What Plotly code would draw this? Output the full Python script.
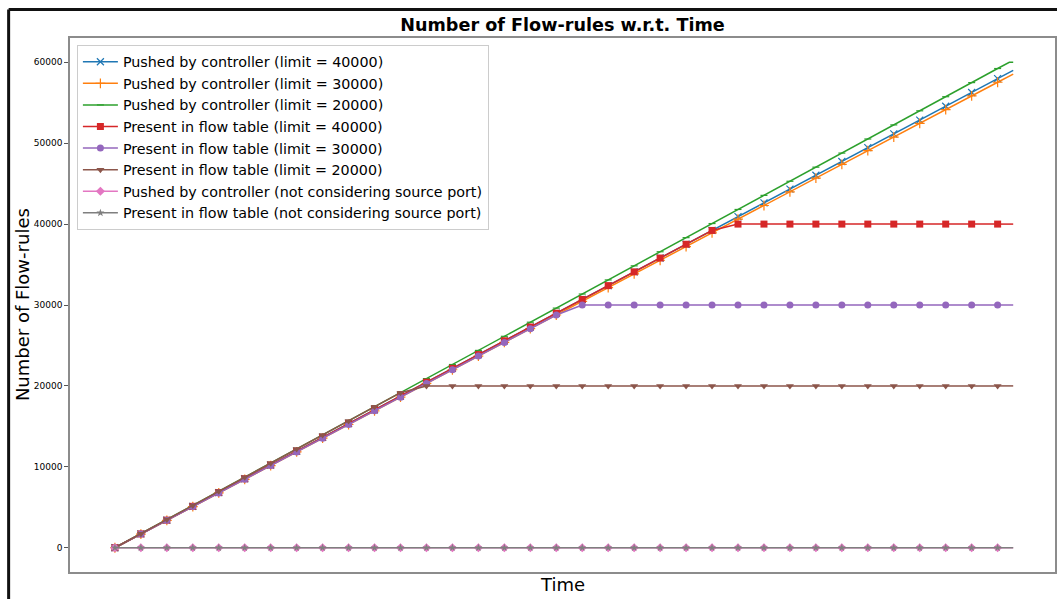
import plotly.graph_objects as go

# time index at marker positions; each curve continues a little past the last marker
time = [0, 1, 2, 3, 4, 5, 6, 7, 8, 9, 10, 11, 12, 13, 14, 15, 16, 17, 18, 19, 20,
        21, 22, 23, 24, 25, 26, 27, 28, 29, 30, 31, 32, 33, 34]
time_tail = [34, 34.6]
time_tail_green = [34, 34.45, 34.6]

pushed_40000 = [0, 1705, 3410, 5115, 6820, 8525, 10230, 11935, 13640, 15345, 17050,
                18755, 20460, 22165, 23870, 25575, 27280, 28985, 30690, 32395, 34100,
                35805, 37510, 39215, 40920, 42625, 44330, 46035, 47740, 49445, 51150,
                52855, 54560, 56265, 57970]
pushed_40000_tail = [57970, 58990]
pushed_30000 = [0, 1692, 3384, 5076, 6768, 8460, 10152, 11844, 13536, 15228, 16920,
                18612, 20304, 21996, 23688, 25380, 27072, 28764, 30456, 32148, 33840,
                35532, 37224, 38916, 40608, 42300, 43992, 45684, 47376, 49068, 50760,
                52452, 54144, 55836, 57528]
pushed_30000_tail = [57528, 58540]
pushed_20000 = [0, 1742, 3484, 5226, 6968, 8710, 10452, 12194, 13936, 15678, 17420,
                19162, 20904, 22646, 24388, 26130, 27872, 29614, 31356, 33098, 34840,
                36582, 38324, 40066, 41808, 43550, 45292, 47034, 48776, 50518, 52260,
                54002, 55744, 57486, 59228]
pushed_20000_tail = [59228, 60000, 60000]
present_40000 = [0, 1705, 3410, 5115, 6820, 8525, 10230, 11935, 13640, 15345, 17050,
                 18755, 20460, 22165, 23870, 25575, 27280, 28985, 30690, 32395, 34100,
                 35805, 37510, 39215, 40000, 40000, 40000, 40000, 40000, 40000, 40000,
                 40000, 40000, 40000, 40000]
present_40000_tail = [40000, 40000]
present_30000 = [0, 1692, 3384, 5076, 6768, 8460, 10152, 11844, 13536, 15228, 16920,
                 18612, 20304, 21996, 23688, 25380, 27072, 28764, 30000, 30000, 30000,
                 30000, 30000, 30000, 30000, 30000, 30000, 30000, 30000, 30000, 30000,
                 30000, 30000, 30000, 30000]
present_30000_tail = [30000, 30000]
present_20000 = [0, 1742, 3484, 5226, 6968, 8710, 10452, 12194, 13936, 15678, 17420,
                 19162, 20000, 20000, 20000, 20000, 20000, 20000, 20000, 20000, 20000,
                 20000, 20000, 20000, 20000, 20000, 20000, 20000, 20000, 20000, 20000,
                 20000, 20000, 20000, 20000]
present_20000_tail = [20000, 20000]
pushed_no_src = [0] * 35
pushed_no_src_tail = [0, 0]
present_no_src = [0] * 35
present_no_src_tail = [0, 0]

labels = ["Pushed by controller (limit = 40000)",
          "Pushed by controller (limit = 30000)",
          "Pushed by controller (limit = 20000)",
          "Present in flow table (limit = 40000)",
          "Present in flow table (limit = 30000)",
          "Present in flow table (limit = 20000)",
          "Pushed by controller (not considering source port)",
          "Present in flow table (not considering source port)"]

series = [
    (pushed_40000, time_tail, pushed_40000_tail, "#1f77b4", "x-thin", 7),
    (pushed_30000, time_tail, pushed_30000_tail, "#ff7f0e", "cross-thin", 7),
    (pushed_20000, time_tail_green, pushed_20000_tail, "#2ca02c", "line-ew", 5),
    (present_40000, time_tail, present_40000_tail, "#d62728", "square", 7),
    (present_30000, time_tail, present_30000_tail, "#9467bd", "circle", 7),
    (present_20000, time_tail, present_20000_tail, "#8c564b", "triangle-down", 7),
    (pushed_no_src, time_tail, pushed_no_src_tail, "#e377c2", "diamond", 7),
    (present_no_src, time_tail, present_no_src_tail, "#7f7f7f", "star", 6),
]

fig = go.Figure()
for (y, tt, yt, c, sym, sz), name in zip(series, labels):
    thin = sym in ("x-thin", "cross-thin", "line-ew")
    fig.add_trace(go.Scatter(
        x=tt, y=yt, mode="lines", showlegend=False, hoverinfo="skip",
        line=dict(color=c, width=1.5),
    ))
    fig.add_trace(go.Scatter(
        x=time, y=y, name=name, mode="lines+markers",
        line=dict(color=c, width=1.5),
        marker=dict(symbol=sym, size=sz, color=c,
                    line=dict(color=c, width=1.2 if thin else 0)),
    ))

fig.update_layout(
    width=1057, height=599,
    margin=dict(l=70, r=0, t=38, b=27),
    paper_bgcolor="white", plot_bgcolor="white",
    font=dict(family="DejaVu Sans", color="black"),
    title=dict(text="<b>Number of Flow-rules w.r.t. Time</b>", xref="paper", x=0.5,
               xanchor="center", y=1 - 25 / 599, yanchor="middle",
               font=dict(size=17.6, color="black")),
    showlegend=True,
    legend=dict(x=0.007, y=0.987, xanchor="left", yanchor="top",
                bgcolor="rgba(255,255,255,0.8)", bordercolor="#cccccc", borderwidth=1,
                font=dict(size=14.3), itemwidth=35, tracegroupgap=0),
    xaxis=dict(range=[-1.73, 36.21], showticklabels=False, ticks="", showgrid=False,
               zeroline=False, showline=True, mirror=True, linecolor="#8c8c8c", linewidth=1.5),
    yaxis=dict(range=[-3000, 63000], tickvals=[0, 10000, 20000, 30000, 40000, 50000, 60000],
               ticktext=["0", "10000", "20000", "30000", "40000", "50000", "60000"],
               ticks="outside", ticklen=4, tickcolor="#555555", tickfont=dict(size=9),
               showgrid=False, zeroline=False, showline=True, mirror=True,
               linecolor="#8c8c8c", linewidth=1.5),
    annotations=[
        dict(text="Time", xref="paper", yref="paper", x=0.5, y=-(584 - 572) / 534,
             xanchor="center", yanchor="middle", showarrow=False, font=dict(size=18)),
        dict(text="Number of Flow-rules", xref="paper", yref="paper",
             x=-(70 - 22) / 987, y=0.5, xanchor="center", yanchor="middle",
             textangle=-90, showarrow=False, font=dict(size=18)),
    ],
)

# figure border (left and top edges visible in the frame)
fig.add_shape(type="line", xref="paper", yref="paper", x0=-0.0623, x1=-0.0623,
              y0=-0.06, y1=1.0534, line=dict(color="#111111", width=3))
fig.add_shape(type="line", xref="paper", yref="paper", x0=-0.0623, x1=1.01,
              y0=1.0534, y1=1.0534, line=dict(color="#111111", width=3))

fig.write_html("out.html")
